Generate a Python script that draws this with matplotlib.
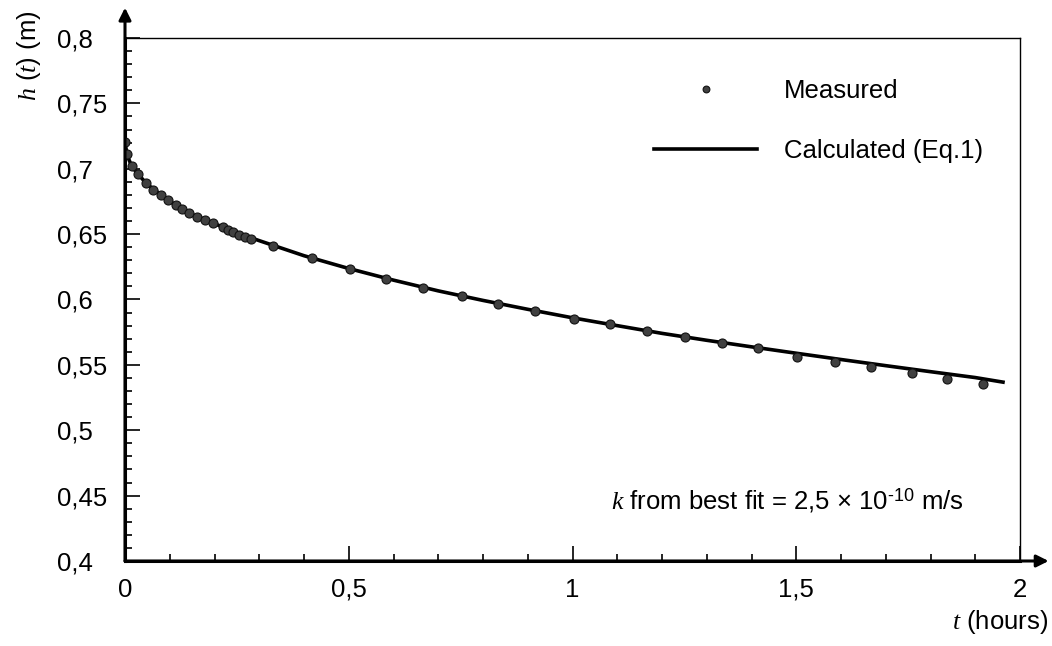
import numpy as np
import matplotlib
matplotlib.use("Agg")
import matplotlib.pyplot as plt
from matplotlib.ticker import MultipleLocator, FuncFormatter

plt.rcParams['font.family'] = ['Liberation Sans', 'DejaVu Sans']
plt.rcParams['mathtext.fontset'] = 'custom'
plt.rcParams['mathtext.it'] = 'Liberation Serif:italic'
plt.rcParams['mathtext.rm'] = 'Liberation Sans'

# measured points (t in hours, h in m)
t_meas = [0.0, 0.0045, 0.0156, 0.029, 0.047, 0.0626, 0.0804, 0.0961, 0.114, 0.1274,
          0.143, 0.1609, 0.1788, 0.1966, 0.219, 0.2302, 0.2413, 0.2547, 0.2682, 0.2816,
          0.3314, 0.4186, 0.5028, 0.5832, 0.6666, 0.7537, 0.8328, 0.9162, 1.0034, 1.0838,
          1.1665, 1.2514, 1.3347, 1.4152, 1.5023, 1.5866, 1.6664, 1.7587, 1.8362, 1.9166]
h_meas = [0.7201, 0.7109, 0.7021, 0.696, 0.6891, 0.6837, 0.6799, 0.6761, 0.6723, 0.6692,
          0.6661, 0.6631, 0.6608, 0.6585, 0.6554, 0.6532, 0.6516, 0.6493, 0.6478, 0.6463,
          0.6409, 0.6315, 0.6233, 0.6159, 0.609, 0.6027, 0.5968, 0.5912, 0.5853, 0.5813,
          0.5759, 0.5713, 0.5665, 0.5627, 0.5563, 0.552, 0.5481, 0.5436, 0.539, 0.5354]

# calculated curve (Eq.1)
t_calc = [0.0, 0.005, 0.015, 0.03, 0.05, 0.1, 0.15, 0.2, 0.25, 0.3, 0.4, 0.5, 0.6, 0.7,
          0.8, 0.9, 1.0, 1.1, 1.2, 1.3, 1.4, 1.5, 1.6, 1.7, 1.8, 1.9, 1.962]
h_calc = [0.72, 0.710, 0.702, 0.6955, 0.688, 0.675, 0.665, 0.658, 0.651, 0.645, 0.6335,
          0.6237, 0.6148, 0.6066, 0.5993, 0.5925, 0.586, 0.58, 0.5741, 0.5688, 0.5638,
          0.5589, 0.5541, 0.5494, 0.5448, 0.5403, 0.5368]

FS = 18.5

fig = plt.figure(figsize=(10.52, 6.46), dpi=100)
ax = fig.add_axes([125/1052, 1-561/646, 895/1052, 523/646])

ax.plot(t_calc, h_calc, color='black', lw=2.6, label='Calculated (Eq.1)', zorder=2)
ax.plot(t_meas, h_meas, 'o', ms=6.5, mfc='#404040', mec='#111111', mew=0.8,
        label='Measured', zorder=3)

ax.set_xlim(0, 2)
ax.set_ylim(0.4, 0.8)
ax.xaxis.set_major_locator(MultipleLocator(0.5))
ax.xaxis.set_minor_locator(MultipleLocator(0.1))
ax.yaxis.set_major_locator(MultipleLocator(0.05))
ax.yaxis.set_minor_locator(MultipleLocator(0.01))
fmt = FuncFormatter(lambda v, p: ('%g' % round(v, 3)).replace('.', ','))
ax.xaxis.set_major_formatter(fmt)
ax.yaxis.set_major_formatter(fmt)
ax.tick_params(which='both', direction='in', width=1.2, labelsize=FS)
ax.tick_params(axis='x', which='major', length=11, pad=12)
ax.tick_params(axis='y', which='major', length=11, pad=49)
ax.tick_params(which='minor', length=5)
# y tick labels are left aligned in the original
for lab in ax.get_yticklabels():
    lab.set_horizontalalignment('left')

for s in ['top', 'right']:
    ax.spines[s].set_linewidth(1.0)
for s in ['left', 'bottom']:
    ax.spines[s].set_linewidth(2.2)

# axis arrows
ax.annotate('', xy=(1.032, 0), xytext=(0, 0), xycoords='axes fraction',
            arrowprops=dict(arrowstyle='-|>', lw=2.2, color='black', mutation_scale=18,
                            shrinkA=0, shrinkB=0))
ax.annotate('', xy=(0, 1.058), xytext=(0, 0), xycoords='axes fraction',
            arrowprops=dict(arrowstyle='-|>', lw=2.2, color='black', mutation_scale=18,
                            shrinkA=0, shrinkB=0))

handles, labels = ax.get_legend_handles_labels()
ax.legend(handles[::-1], labels[::-1], loc='upper left', bbox_to_anchor=(0.577, 0.947),
          frameon=False, fontsize=FS, handlelength=4.0, handletextpad=1.05,
          labelspacing=1.4, borderpad=0, markerscale=0.75)

ax.text(-0.107, 0.967, '$h$ ($t$) (m)', transform=ax.transAxes, rotation=90,
        ha='center', va='center', fontsize=FS)
ax.text(1.032, -0.117, '$t$ (hours)', transform=ax.transAxes, ha='right', va='center',
        fontsize=FS)

ax.text(0.74, 0.115, r'$k$ from best fit = 2,5 × 10$^{\text{-10}}$ m/s',
        transform=ax.transAxes, ha='center', va='center', fontsize=FS)

fig.savefig('out.png', dpi=100)
